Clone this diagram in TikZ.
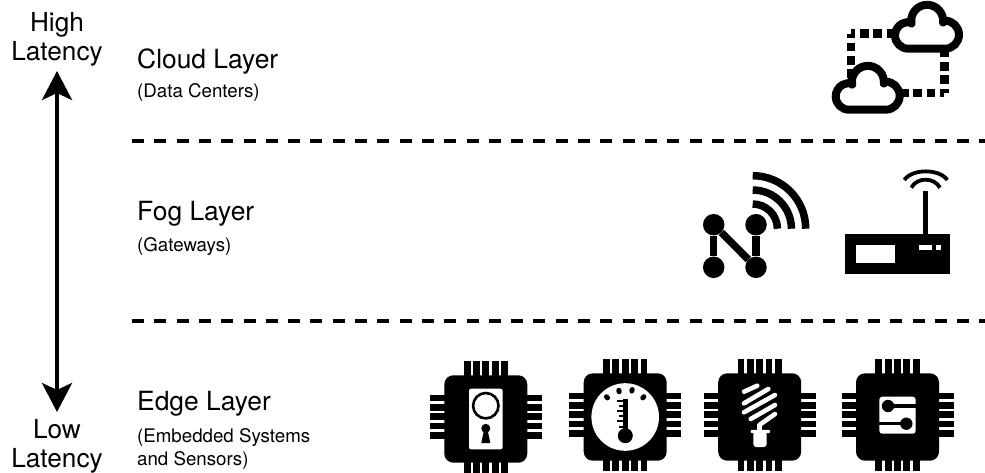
\documentclass[tikz,border=0pt]{standalone}
\usepackage{fontspec}
\setmainfont{TeX Gyre Heros}
\usetikzlibrary{arrows.meta}
\tikzstyle{layer}=[anchor=base west,inner sep=0pt,font=\fontsize{26.4}{29}\selectfont]
\tikzstyle{sublayer}=[anchor=base west,inner sep=0pt,align=left,font=\fontsize{18.7}{23.5}\selectfont]
\tikzstyle{latency}=[inner sep=0pt,align=center,font=\fontsize{26.2}{29}\selectfont]
\tikzstyle{latencyarrow}=[draw,line width=4pt,{Stealth[length=29pt,width=30pt,inset=7pt]}-{Stealth[length=29pt,width=30pt,inset=7pt]}]
\tikzstyle{divider}=[draw,line width=3.8pt,dash pattern=on 12pt off 10.3pt]
\tikzstyle{dotlink}=[draw,line width=8.5pt,dash pattern=on 8.5pt off 4.83pt,dash phase=4.25pt]
\tikzstyle{cloudline}=[draw,fill=white,line width=8pt,line join=round]
\tikzstyle{netdot}=[circle,fill=black,minimum size=21.5pt,inner sep=0pt]
\tikzstyle{netline}=[draw,line width=7.5pt]
\tikzstyle{wave}=[draw,line width=7.5pt]
\tikzstyle{antenna}=[draw,line width=3.8pt]
\tikzstyle{pin}=[draw,line width=6.8pt]
\tikzstyle{stripe}=[draw,white,line width=4.6pt,line cap=round]
\tikzset{
  cloud/.pic={
    \path[cloudline] (-18.7,21.7) arc[start angle=90,end angle=286,radius=13.3]
      -- (-15.6,-3.4) arc[start angle=170,end angle=366,radius=16]
      -- (18,-6.3) arc[start angle=270,end angle=450,radius=14] -- cycle;
  },
  chip/.pic={
    \foreach \off in {-18.7,-9.35,0,9.35,18.7} {
      \path[pin] (\off,-57.7) -- (\off,53.5);
      \path[pin] (-56,\off-2.3) -- (56,\off-2.3);
    }
    \fill[black,rounded corners=9pt] (-41.5,-43.7) rectangle (41.5,43.7);
  }
}

\begin{document}
\begin{tikzpicture}[x=1pt,y=-1pt]
    \useasboundingbox (0,0) rectangle (985,472);

    % latency scale
    \node[latency,anchor=south] (high) at (57,66) {High\\Latency};
    \node[latency,anchor=north] (low) at (57,419) {Low\hspace{6pt}\\Latency};
    \path[latencyarrow,shorten >=5pt,shorten <=7pt] (low.north) -- (high.south);

    \foreach \pos/ \name/ \txt in {{(137,68.5)/cloudlayer/Cloud Layer},{(137,220)/foglayer/Fog Layer},{(137,410)/edgelayer/Edge Layer}}
        \node[layer] (\name) at \pos {\txt};
    \node[sublayer] (centers) at (137,97) {(Data Centers)};
    \node[sublayer] (gateways) at (137,251) {(Gateways)};
    \node[sublayer,anchor=north west] (embedded) at (137,428) {(Embedded Systems\\and Sensors)};

    \coordinate (div1a) at (132,141.3);
    \coordinate (div1b) at (985,141.3);
    \coordinate (div2a) at (132,321);
    \coordinate (div2b) at (985,321);
    \path[divider] (div1a) -- (div1b);
    \path[divider] (div2a) -- (div2b);

    % clouds
    \coordinate (corner1) at (851,33.7);
    \coordinate (corner2) at (944.3,93);
    \coordinate (cloudtop) at (927,27);
    \coordinate (cloudlow) at (867.7,88);
    \path[dotlink] (corner1) -- (cloudtop |- corner1);
    \path[dotlink] (corner1) -- (corner1 |- cloudlow);
    \path[dotlink] (corner2) -- (cloudlow |- corner2);
    \path[dotlink] (corner2) -- (corner2 |- cloudtop);
    \pic at (cloudtop) {cloud};
    \pic at (cloudlow) {cloud};

    % network icon
    \foreach \pos/ \name in {{(713.7,224.7)/na},{(756,224.7)/nb},{(713.7,267.3)/nc},{(756,267.3)/nd}}
        \node[netdot] (\name) at \pos {};
    \foreach \source/ \dest in {na/nc,na/nd,nb/nd}
        \path[netline] (\source) -- (\dest);
    \foreach \rad in {24.7,38.7,53}
        \path[wave] (752.7,228.7-\rad) arc[start angle=270,end angle=360,radius=\rad];

    % router
    \fill[black] (845.3,234.3) rectangle (949.7,273.7);
    \fill[white] (856,245.3) rectangle (895.3,263);
    \fill[white] (919,245.3) rectangle (932.3,249.7);
    \fill[white] (936.3,245.3) rectangle (940.7,249.7);
    \draw[line width=5pt] (925.7,191) -- (925.7,234.3);
    \path[antenna] (904.3,180) .. controls (912,168.5) and (939.5,168.5) .. (947.3,180);
    \path[antenna] (911.3,187.7) .. controls (917,177) and (934,177) .. (940,187.7);

    \pic at (485.8,419) {chip};
    \foreach \pos in {(625.2,417),(759.7,417),(897.5,417)}
        \pic at \pos {chip};

    % lock
    \begin{scope}[shift={(485.8,419)}]
        \fill[white,rounded corners=2pt] (-16.8,-30.3) rectangle (16.8,30.3);
        \draw[line width=2.6pt] (0,-13.3) circle[radius=12.7];
        \fill[black] (0,9.3) circle[radius=4.5];
        \fill[black] (-1.8,11) -- (1.8,11) -- (4.5,24) -- (-4.5,24) -- cycle;
    \end{scope}

    % thermometer
    \begin{scope}[shift={(625.2,417)}]
        \fill[white] (0,0) circle[radius=33.8];
        \draw[line width=4.6pt] (0.1,-18) -- (0.1,15);
        \fill[black] (0.1,18.7) circle[radius=7.5];
        \foreach \ypos/ \xpos in {-16/-8.5,-11.3/-6.5,-6.3/-8.5,-1.3/-6.5,3.7/-8.5,9.7/-6.5}
            \draw[line width=1.7pt] (\xpos,\ypos) -- (-2,\ypos);
        \foreach \pos/ \ang in {{(-18.2,-19.7)/227},{(-6.2,-26)/256},{(6.8,-26.7)/284},{(18.1,-19.7)/313}}
            \draw[line width=5pt,line cap=round] \pos ++(\ang:-0.8) -- ++(\ang:1.6);
    \end{scope}

    % bulb
    \begin{scope}[shift={(759.7,417)}]
        \path[stripe] (-15.7,-25.3) -- (-2.4,-31.3);
        \path[stripe] (-15.7,-13.7) -- (8.6,-28);
        \path[stripe] (-15.7,-4.7) -- (15.3,-22);
        \path[stripe] (-9,2) -- (15.3,-12);
        \path[stripe] (-0.4,8) -- (15.3,-3);
        \draw[white,line width=4.6pt] (-0.4,8) -- (-0.4,14);
        \fill[white,rounded corners=1pt] (-9,12.8) rectangle (10.3,16);
        \fill[white,rounded corners=3pt] (-6.4,14) rectangle (7,30);
    \end{scope}

    % circuit
    \begin{scope}[shift={(897.5,417)}]
        \fill[white,rounded corners=3pt] (-18.2,-20.3) rectangle (18.2,16.7);
        \fill[black] (-9.5,-11) circle[radius=6.2];
        \draw[line width=3.4pt] (-9.5,-11) -- (18.2,-11);
        \fill[black] (8.8,6.7) circle[radius=6.2];
        \draw[line width=3.4pt] (8.8,6.7) -- (-18.2,6.7);
    \end{scope}

\end{tikzpicture}
\end{document}
